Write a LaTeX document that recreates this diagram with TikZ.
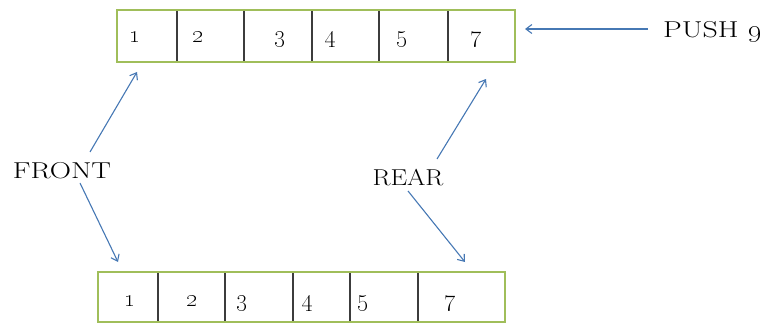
\documentclass[tikz,border=0pt]{standalone}
\usetikzlibrary{arrows.meta}
\definecolor{boxgreen}{RGB}{160,190,90}
\definecolor{divgray}{RGB}{60,60,60}
\definecolor{arrblue}{RGB}{70,120,180}
\begin{document}
\begin{tikzpicture}[x=1pt,y=-1pt,
  cell/.style={draw=divgray, line width=1.1pt, inner sep=0pt, outer sep=0pt, rectangle},
  digit/.style={anchor=base, inner sep=0pt, font=\fontsize{25}{28}\selectfont},
  lbl/.style={inner sep=0pt, font=\fontsize{23}{27}\selectfont},
  outer/.style={draw=boxgreen, line width=2pt},
  arr/.style={draw=arrblue, line width=1.1pt, -{Straight Barb[length=6pt,width=9pt]}}]
\useasboundingbox (0,0) rectangle (763,323);
% top row cells
\node[cell, minimum width=60pt, minimum height=52pt] (t1) at (147,36) {};
\node[cell, minimum width=67pt, minimum height=52pt] (t2) at (210.5,36) {};
\node[cell, minimum width=68pt, minimum height=52pt] (t3) at (278,36) {};
\node[cell, minimum width=67pt, minimum height=52pt] (t4) at (345.5,36) {};
\node[cell, minimum width=69pt, minimum height=52pt] (t5) at (413.5,36) {};
\node[cell, minimum width=67pt, minimum height=52pt] (t6) at (481.5,36) {};
\draw[outer] (t1.north west) rectangle (t6.south east);
\node[digit] (d1) at (135,43) {\oldstylenums{1}};
\node[digit] (d2) at (198,43) {\oldstylenums{2}};
\node[digit] (d3) at (280,43) {\oldstylenums{3}};
\node[digit] (d4) at (330,43) {\oldstylenums{4}};
\node[digit] (d5) at (402,43) {\oldstylenums{5}};
\node[digit] (d6) at (476,43) {\oldstylenums{7}};
% bottom row cells
\node[cell, minimum width=60pt, minimum height=50pt] (b1) at (128,297) {};
\node[cell, minimum width=67pt, minimum height=50pt] (b2) at (191.5,297) {};
\node[cell, minimum width=68pt, minimum height=50pt] (b3) at (259,297) {};
\node[cell, minimum width=57pt, minimum height=50pt] (b4) at (321.5,297) {};
\node[cell, minimum width=68pt, minimum height=50pt] (b5) at (384,297) {};
\node[cell, minimum width=87pt, minimum height=50pt] (b6) at (461.5,297) {};
\draw[outer] (b1.north west) rectangle (b6.south east);
\node[digit] (e1) at (130,306) {\oldstylenums{1}};
\node[digit] (e2) at (192,306) {\oldstylenums{2}};
\node[digit] (e3) at (242,306) {\oldstylenums{3}};
\node[digit] (e4) at (307,306) {\oldstylenums{4}};
\node[digit] (e5) at (363,306) {\oldstylenums{5}};
\node[digit] (e6) at (450,306) {\oldstylenums{7}};
% labels
\node[lbl, anchor=base] (front) at (62,179) {\scalebox{1.28}[1]{FRONT}};
\node[lbl, anchor=base] (rear) at (408,186) {\scalebox{1.15}[1]{REAR}};
\node[lbl, anchor=base west] (push) at (663,38) {\scalebox{1.3}[1]{PUSH \oldstylenums{9}}};
% arrow end points
\coordinate (fa) at (90,152);
\coordinate (fb) at (137,72);
\coordinate (fc) at (80,183);
\coordinate (fd) at (118,262);
\coordinate (ra) at (437,159);
\coordinate (rb) at (486,79);
\coordinate (rc) at (408,191);
\coordinate (rd) at (465,262);
\coordinate (pa) at (648,29);
\coordinate (pb) at (525,29);
\draw[arr] (fa) -- (fb);
\draw[arr] (fc) -- (fd);
\draw[arr] (ra) -- (rb);
\draw[arr] (rc) -- (rd);
\draw[arr] (pa) -- (pb);
\end{tikzpicture}
\end{document}
